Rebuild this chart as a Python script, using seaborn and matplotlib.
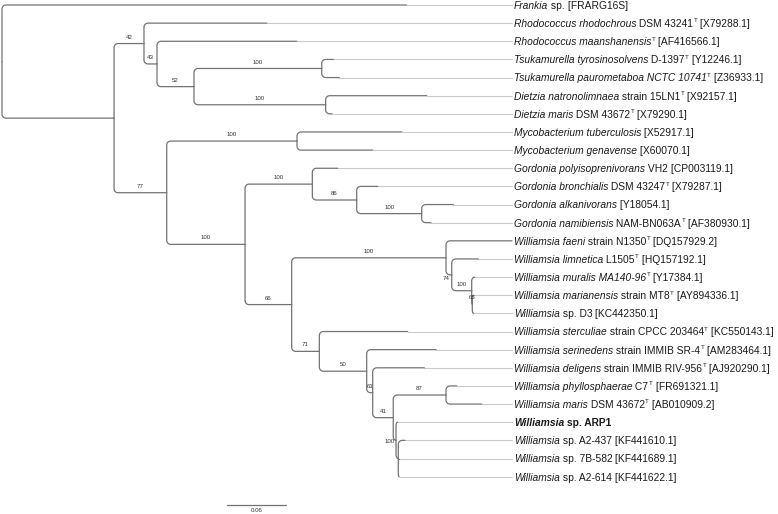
import numpy as np
import pandas as pd
import matplotlib
matplotlib.use("Agg")
import matplotlib.pyplot as plt
import seaborn as sns

# ---------------- data ----------------
leaf_italic = [
    "Frankia", "Rhodococcus rhodochrous", "Rhodococcus maanshanensis",
    "Tsukamurella tyrosinosolvens", "Tsukamurella paurometaboa NCTC 10741",
    "Dietzia natronolimnaea", "Dietzia maris", "Mycobacterium tuberculosis",
    "Mycobacterium genavense", "Gordonia polyisoprenivorans", "Gordonia bronchialis",
    "Gordonia alkanivorans", "Gordonia namibiensis", "Williamsia faeni",
    "Williamsia limnetica", "Williamsia muralis MA140-96", "Williamsia marianensis",
    "Williamsia", "Williamsia sterculiae", "Williamsia serinedens",
    "Williamsia deligens", "Williamsia phyllosphaerae", "Williamsia maris",
    "Williamsia", "Williamsia", "Williamsia", "Williamsia",
]
leaf_strain = [
    "sp.", "DSM 43241", "", "D-1397", "", "strain 15LN1", "DSM 43672", "", "",
    "VH2", "DSM 43247", "", "NAM-BN063A", "strain N1350", "L1505", "",
    "strain MT8", "sp. D3", "strain CPCC 203464", "strain IMMIB SR-4",
    "strain IMMIB RIV-956", "C7", "DSM 43672", "sp. ARP1", "sp. A2-437",
    "sp. 7B-582", "sp. A2-614",
]
leaf_type = [0, 1, 1, 1, 1, 1, 1, 0, 0, 0, 1, 0, 1, 1, 1, 1, 1, 0, 1, 1, 1, 1, 1, 0, 0, 0, 0]
leaf_accession = [
    "FRARG16S", "X79288.1", "AF416566.1", "Y12246.1", "Z36933.1", "X92157.1",
    "X79290.1", "X52917.1", "X60070.1", "CP003119.1", "X79287.1", "Y18054.1",
    "AF380930.1", "DQ157929.2", "HQ157192.1", "Y17384.1", "AY894336.1",
    "KC442350.1", "KC550143.1", "AM283464.1", "AJ920290.1", "FR691321.1",
    "AB010909.2", "", "KF441610.1", "KF441689.1", "KF441622.1",
]
leaf_highlight = [0] * 23 + [1, 0, 0, 0]
leaf_parent = [
    "root", "B", "D", "T", "T", "Di", "Di", "M", "M", "G", "N86", "Gan", "Gan",
    "Wf", "N74", "N100b", "N65", "N65", "N71", "N50", "N61", "N87", "N87",
    "N100c", "Z", "Z", "Z",
]
leaf_depth = [
    0.4096, 0.2679, 0.2983, 0.3353, 0.3414, 0.4299, 0.3340, 0.4046, 0.3752,
    0.3398, 0.3803, 0.4568, 0.4342, 0.5162, 0.4821, 0.4787, 0.4777, 0.4772,
    0.4106, 0.4393, 0.4275, 0.4602, 0.4855, 0.4003, 0.4079, 0.4018, 0.4018,
]

node_names = ["root", "A", "B", "D", "E", "T", "Di", "C", "M", "X", "G", "N86",
              "Gan", "W", "Wf", "N74", "N100b", "N65", "N71", "N50", "N61",
              "N41", "N87", "N100c", "Z"]
node_parent = [None, "root", "A", "B", "D", "E", "E", "A", "C", "C", "X", "G",
               "N86", "X", "W", "Wf", "N74", "N100b", "W", "N71", "N50", "N61",
               "N41", "N41", "N100c"]
node_depth = [0.0, 0.1134, 0.1437, 0.1569, 0.1943, 0.3236, 0.3276, 0.1667,
              0.2986, 0.2460, 0.3141, 0.3590, 0.4248, 0.2932, 0.4494, 0.4552,
              0.4754, 0.4760, 0.3212, 0.3691, 0.3752, 0.3960, 0.4494, 0.3988,
              0.4011]
node_support = [None, None, 42, 43, 52, 100, 100, 77, 100, 100, 100, 86, 100,
                66, 100, 74, 100, 65, 71, 50, 61, 41, 87, 100, None]

scale_value = 0.06
scale_label = "0.06"

# ---------------- layout helpers ----------------
PX_X = 988.0     # pixels per unit of distance
PX_Y = 18.14     # pixels per leaf row
W_PX, H_PX = 778, 514
DARK = "#737373"
LIGHT = "#c9c9c9"
FS = 7.35

ypos = {}
depth = {}
children = {n: [] for n in node_names}
for i, p in enumerate(leaf_parent):
    key = f"leaf{i}"
    ypos[key] = float(i)
    depth[key] = leaf_depth[i]
    children[p].append(key)
for n, p, d in zip(node_names, node_parent, node_depth):
    depth[n] = d
    if p is not None:
        children[p].append(n)


def get_y(n):
    if n in ypos:
        return ypos[n]
    ys = [get_y(c) for c in children[n]]
    ypos[n] = (min(ys) + max(ys)) / 2.0
    return ypos[n]


for n in node_names:
    get_y(n)

rows = []
seg = 0
rx0, ry0 = 4.0 / PX_X, 4.0 / PX_Y
for parent, kids in children.items():
    px, py = depth[parent], ypos[parent]
    for c in kids:
        cx, cy = depth[c], ypos[c]
        dy = cy - py
        s = np.sign(dy)
        rx = min(rx0, max(cx - px, 0.0))
        ry = min(ry0, abs(dy))
        pts = [(px, py)]
        if rx > 0 and ry > 0 and s != 0:
            pts.append((px, cy - s * ry))
            for t in np.linspace(0, np.pi / 2, 9):
                pts.append((px + rx - rx * np.cos(t), cy - s * ry + s * ry * np.sin(t)))
        else:
            pts.append((px, cy))
        pts.append((cx, cy))
        for k, (x, y) in enumerate(pts):
            rows.append({"seg": seg, "k": k, "x": x, "y": y})
        seg += 1
branches = pd.DataFrame(rows)

align_x = max(leaf_depth)
ext_rows = []
for i, d in enumerate(leaf_depth):
    if d < align_x:
        ext_rows.append({"seg": i, "x": d, "y": float(i)})
        ext_rows.append({"seg": i, "x": align_x, "y": float(i)})
extensions = pd.DataFrame(ext_rows)

# ---------------- plot ----------------
sns.set_theme(style="white")
plt.rcParams["font.family"] = ["Liberation Sans", "DejaVu Sans"]

fig = plt.figure(figsize=(W_PX / 100, H_PX / 100), dpi=100)
ax = fig.add_axes([0, 0, 1, 1])
ax.set_axis_off()

sns.lineplot(data=extensions, x="x", y="y", units="seg", estimator=None,
             sort=False, color=LIGHT, lw=0.8, ax=ax, legend=False)
sns.lineplot(data=branches, x="x", y="y", units="seg", estimator=None,
             sort=False, color=DARK, lw=0.9, ax=ax, legend=False)

ax.set_xlim(-2.0 / PX_X, (W_PX - 2.0) / PX_X)
ax.set_ylim((H_PX - 5.0) / PX_Y, -5.0 / PX_Y)

TXT = "#1a1a1a"
for i in range(len(leaf_italic)):
    weight = "bold" if leaf_highlight[i] else "normal"
    first = ax.annotate(leaf_italic[i], xy=(align_x, i), xytext=(1.3, -2.8),
                        textcoords="offset points", ha="left", va="baseline",
                        fontsize=FS, color=TXT, style="italic", fontweight=weight)
    prev_x = first
    prev_y = first
    rest = ""
    if leaf_strain[i]:
        rest += " " + leaf_strain[i]
    if rest:
        t = ax.annotate(rest, xy=(1, 0), xycoords=prev_x, ha="left", va="bottom",
                        fontsize=FS, color=TXT, fontweight=weight)
        prev_x = t
        prev_y = t
    if leaf_type[i]:
        t = ax.annotate("T", xy=(1, 1), xycoords=prev_x, xytext=(0.3, 0.4),
                        textcoords="offset points", ha="left", va="top",
                        fontsize=FS * 0.6, color=TXT, fontweight=weight)
        prev_x = t
    if leaf_accession[i]:
        ax.annotate(" [" + leaf_accession[i] + "]", xy=(1, 0),
                    xycoords=(prev_x, prev_y), ha="left", va="bottom",
                    fontsize=FS, color=TXT, fontweight=weight)

# bootstrap values
label_shift = {"N74": (-2.3, 10.0), "N100c": (-5.0, 7.5)}
for n, p, s in zip(node_names, node_parent, node_support):
    if s is None or p is None:
        continue
    mx = (depth[p] + depth[n]) / 2
    dx, dy = label_shift.get(n, (0.0, 0.0))
    ax.annotate(str(s), xy=(mx, ypos[n]), xytext=(dx * 0.72, 4.6 - dy * 0.72),
                textcoords="offset points", ha="center", va="center",
                fontsize=4.4, color="#333333")

# scale bar
sb_x0 = 224.7 / PX_X
sb_y = (505.0 - 5.0) / PX_Y
scale = pd.DataFrame({"x": [sb_x0, sb_x0 + scale_value], "y": [sb_y, sb_y]})
sns.lineplot(data=scale, x="x", y="y", color=DARK, lw=0.9, ax=ax,
             estimator=None, sort=False, legend=False)
ax.annotate(scale_label, xy=(sb_x0 + scale_value / 2, sb_y), xytext=(0, -4.3),
            textcoords="offset points", ha="center", va="center",
            fontsize=4.4, color="#333333")

fig.savefig("out.png", dpi=100)
